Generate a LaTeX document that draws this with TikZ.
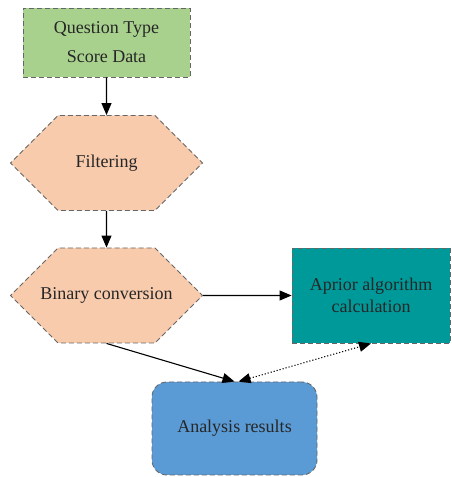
\documentclass[tikz,border=0pt]{standalone}
\usepackage{fontspec}
\setmainfont{Liberation Serif}
\usetikzlibrary{shapes.symbols, arrows.meta}
\definecolor{datagreen}{RGB}{169,209,142}
\definecolor{stepbeige}{RGB}{248,203,173}
\definecolor{algoteal}{RGB}{0,153,153}
\definecolor{resultblue}{RGB}{91,155,213}
\tikzset{
  box/.style={draw=black!60, line width=0.9, dash pattern=on 5 off 3, align=center,
    text=black!85, font=\rmfamily\fontsize{18}{22}\selectfont},
  hexa/.style={box, signal, signal to=west and east, signal pointer angle=90,
    inner xsep=0, minimum width=192, minimum height=95, fill=stepbeige},
  link/.style={line width=1.1, ->}
}

\begin{document}
\begin{tikzpicture}[x=1pt, y=1pt, >={Triangle[length=12,width=10]}]
      \useasboundingbox (0,0) rectangle (451,477);
      \node[box, fill=datagreen, minimum width=167, minimum height=69, font=\rmfamily\fontsize{18}{29}\selectfont] (data) at (106.5,434.5) {Question Type\\Score Data};
      \node[hexa] (filter) at (106.5,314) {Filtering};
      \node[hexa] (binary) at (106.5,181.5) {\makebox[0pt]{Binary conversion}};
      \node[box, fill=algoteal, minimum width=158, minimum height=95] (algo) at (371,181.5) {Aprior algorithm\\calculation};
      \node[box, fill=resultblue, rounded corners=15, minimum width=165, minimum height=93] (results) at (234.5,48.5) {Analysis results};
      \draw[link] (data) -- (filter);
      \draw[link] (filter) -- (binary);
      \draw[link] (binary) -- (algo);
      \draw[link] (binary.south) -- (results.north);
      \draw[link, <->, dotted] ([xshift=4]results.north) -- (algo.south);
    \end{tikzpicture}
\end{document}
